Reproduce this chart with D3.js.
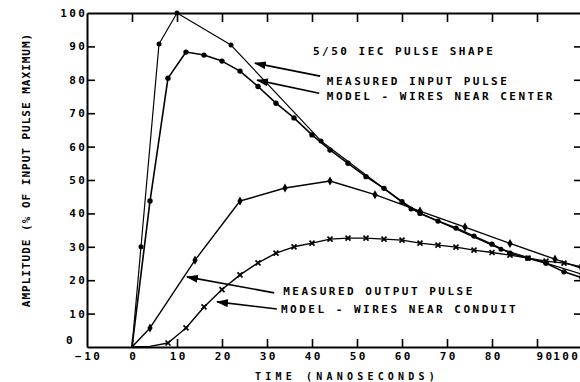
<!DOCTYPE html>
<html>
<head>
<meta charset="utf-8">
<script src="https://cdn.jsdelivr.net/npm/d3@7"></script>
<style>
  body { margin: 0; background: #fff; }
  svg text { font-family: "DejaVu Sans Mono", monospace; font-weight: bold; fill: #000; }
</style>
</head>
<body>
<script>
// axis ticks
const xTicks = [-10, 0, 10, 20, 30, 40, 50, 60, 70, 80, 90, 100];
const yTicks = [0, 10, 20, 30, 40, 50, 60, 70, 80, 90, 100];

// measured input pulse (thin line, markers only where measured)
const inputTime = [0, 2, 6, 10, 22, 42, 62, 82, 100];
const inputAmp  = [0, 30, 90.7, 100, 90.4, 61.7, 41.3, 29.3, 21.8];

// model - wires near center (every 4 ns)
const centerTime = [0, 4, 8, 12, 16, 20, 24, 28, 32, 36, 40, 44, 48, 52, 56, 60, 64, 68, 72, 76, 80, 84, 88, 92, 96, 100];
const centerAmp  = [0, 43.7, 80.5, 88.3, 87.4, 85.6, 82.6, 78, 73, 68.6, 63.5, 59, 55, 51, 47.5, 43.5, 40, 37.7, 35.6, 33.2, 30.8, 28.1, 26.6, 25.1, 22.5, 20.7];

// measured output pulse
const outputTime = [0, 4, 14, 24, 34, 44, 54, 64, 74, 84, 94, 100];
const outputAmp  = [0, 5.7, 26, 43.7, 47.6, 49.7, 45.6, 40.7, 35.9, 31, 26.3, 23.5];

// model - wires near conduit (every 4 ns)
const conduitTime = [0, 4, 8, 12, 16, 20, 24, 28, 32, 36, 40, 44, 48, 52, 56, 60, 64, 68, 72, 76, 80, 84, 88, 92, 96, 100];
const conduitAmp  = [0, 0.2, 1.2, 5.7, 12, 17.2, 21.6, 25.2, 28.1, 30, 31.1, 32.3, 32.6, 32.6, 32.3, 32, 31.1, 30.5, 29.9, 29, 28.3, 27.5, 26.6, 25.7, 25.1, 24];

const width = 580, height = 382;

const svg = d3.select("body").append("svg")
  .attr("width", width)
  .attr("height", height);

const x = d3.scaleLinear().domain([-10, 100]).range([87, 582]);
const y = d3.scaleLinear().domain([0, 100]).range([347, 13]);

const LS = 2.5; // letter spacing for the plotter-like lettering

// bottom axis
const gx = svg.append("g")
  .attr("transform", `translate(0,${y(0)})`)
  .call(d3.axisBottom(x).tickValues(xTicks).tickSize(-8).tickSizeOuter(0).tickPadding(5));
// left axis
const gy = svg.append("g")
  .attr("transform", `translate(${x(-10)},0)`)
  .call(d3.axisLeft(y).tickValues(yTicks).tickSize(-8).tickSizeOuter(0).tickPadding(2));
// top axis, no labels
const gt = svg.append("g")
  .attr("transform", `translate(0,${y(100)})`)
  .call(d3.axisTop(x).tickValues(xTicks).tickSize(-9).tickSizeOuter(0).tickFormat(""));
// right axis, no labels
const gr = svg.append("g")
  .attr("transform", `translate(${x(100)},0)`)
  .call(d3.axisRight(y).tickValues(yTicks).tickSize(-8).tickSizeOuter(0).tickFormat(""));

[gx, gy, gt, gr].forEach(g => {
  g.attr("font-family", null).attr("font-size", null);
  g.select(".domain").attr("stroke", "#000").attr("stroke-width", 2);
  g.selectAll(".tick line").attr("stroke", "#000").attr("stroke-width", 1.6);
  g.selectAll(".tick text")
    .attr("font-size", 11)
    .attr("letter-spacing", LS);
});

gx.selectAll(".tick text")
  .attr("dx", LS / 2)
  .filter(d => d === 90).attr("dx", 8);
gx.selectAll(".tick text")
  .filter(d => d === 100)
  .attr("text-anchor", "end")
  .attr("dx", -2);
gx.selectAll(".tick line").filter(d => d === -10 || d === 100).remove();
gt.selectAll(".tick line").filter(d => d === -10 || d === 100).remove();

gy.selectAll(".tick text").attr("dx", LS);
gy.selectAll(".tick text")
  .filter(d => d === 0)
  .attr("text-anchor", "start")
  .attr("x", -21)
  .attr("dx", 0)
  .attr("dy", "-0.35em");
gy.selectAll(".tick line").filter(d => d === 0 || d === 100).remove();
gr.selectAll(".tick line").filter(d => d === 0 || d === 100).remove();

// axis titles
svg.append("text")
  .attr("x", 347)
  .attr("y", 380)
  .attr("text-anchor", "middle")
  .attr("font-size", 10)
  .attr("letter-spacing", 4.2)
  .text("TIME (NANOSECONDS)");

svg.append("text")
  .attr("transform", "translate(30,170) rotate(-90)")
  .attr("text-anchor", "middle")
  .attr("font-size", 11)
  .attr("letter-spacing", 1)
  .text("AMPLITUDE (% OF INPUT PULSE MAXIMUM)");

// curves
const line = d3.line().x(d => x(d[0])).y(d => y(d[1]));
const zip = (a, b) => a.map((t, i) => [t, b[i]]);

const series = [
  { pts: zip(inputTime, inputAmp), w: 1.2, marker: "circle", r: 2.5 },
  { pts: zip(centerTime, centerAmp), w: 1.6, marker: "circle", r: 2.7 },
  { pts: zip(outputTime, outputAmp), w: 1.4, marker: "diamond", r: 2.2 },
  { pts: zip(conduitTime, conduitAmp), w: 1.4, marker: "x", r: 2 }
];

series.forEach(s => {
  svg.append("path")
    .attr("fill", "none")
    .attr("stroke", "#000")
    .attr("stroke-width", s.w)
    .attr("stroke-linejoin", "round")
    .attr("d", line(s.pts));

  const pts = s.pts.filter(d => d[0] > 0);
  if (s.marker === "circle") {
    svg.selectAll(null).data(pts).enter().append("circle")
      .attr("cx", d => x(d[0])).attr("cy", d => y(d[1]))
      .attr("r", s.r).attr("fill", "#000");
  } else if (s.marker === "diamond") {
    svg.selectAll(null).data(pts).enter().append("path")
      .attr("transform", d => `translate(${x(d[0])},${y(d[1])})`)
      .attr("d", d3.symbol(d3.symbolDiamond, 24))
      .attr("fill", "#000");
  } else {
    svg.selectAll(null).data(pts.filter(d => d[0] >= 8)).enter().append("path")
      .attr("transform", d => `translate(${x(d[0])},${y(d[1])})`)
      .attr("d", d3.symbol(d3.symbolX, 18))
      .attr("fill", "none")
      .attr("stroke", "#000")
      .attr("stroke-width", 1.7);
  }
});

// annotations
svg.append("defs").append("marker")
  .attr("id", "head")
  .attr("markerUnits", "userSpaceOnUse")
  .attr("viewBox", "0 0 12 8")
  .attr("refX", 11).attr("refY", 4)
  .attr("markerWidth", 12).attr("markerHeight", 8)
  .attr("orient", "auto")
  .append("path")
  .attr("d", "M12,4 L0,0 L0,8 Z")
  .attr("fill", "#000");

svg.append("text")
  .attr("x", x(40.2)).attr("y", y(87.4))
  .attr("font-size", 11).attr("letter-spacing", LS)
  .text("5/50 IEC PULSE SHAPE");

const notes = [
  { text: "MEASURED INPUT PULSE", tx: 43.3, ty: 78.4, from: [41.8, 81.1], to: [27.3, 85.0] },
  { text: "MODEL - WIRES NEAR CENTER", tx: 43.3, ty: 74.0, from: [41.6, 76.0], to: [27.8, 79.9] },
  { text: "MEASURED OUTPUT PULSE", tx: 33.6, ty: 15.6, from: [31.6, 16.2], to: [12.2, 21.0] },
  { text: "MODEL - WIRES NEAR CONDUIT", tx: 33.1, ty: 10.2, from: [32.2, 11.4], to: [18.9, 13.5] }
];

notes.forEach(n => {
  svg.append("line")
    .attr("x1", x(n.from[0])).attr("y1", y(n.from[1]))
    .attr("x2", x(n.to[0])).attr("y2", y(n.to[1]))
    .attr("stroke", "#000")
    .attr("stroke-width", 1.6)
    .attr("marker-end", "url(#head)");
  svg.append("text")
    .attr("x", x(n.tx)).attr("y", y(n.ty))
    .attr("font-size", 11).attr("letter-spacing", LS)
    .text(n.text);
});
</script>
</body>
</html>
